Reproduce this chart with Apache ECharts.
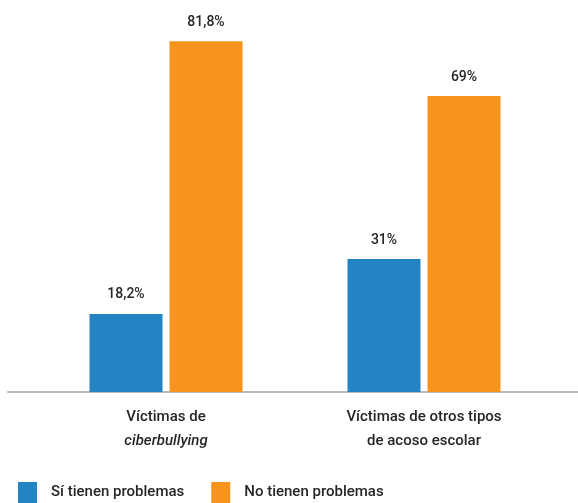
<!DOCTYPE html>
<html>
<head>
<meta charset="utf-8">
<script src="https://cdn.jsdelivr.net/npm/echarts@6/dist/echarts.min.js"></script>
<style>
  html, body { margin: 0; padding: 0; background: #fff; }
  #chart { width: 578px; height: 503px; }
</style>
</head>
<body>
<div id="chart"></div>
<script>
// data
var categories = ['Víctimas de\n{i|ciberbullying}', 'Víctimas de otros tipos\nde acoso escolar'];
var seriesNames = ['Sí tienen problemas', 'No tienen problemas'];
var siValues = [18.2, 31];
var noValues = [81.8, 69];

var FONT = 'Roboto';
var BLUE = '#2383c3';
var ORANGE = '#f7941d';
var TEXT = '#262626';

var chart = echarts.init(document.getElementById('chart'));

function pct(p) {
  return String(p.value).replace('.', ',') + '%';
}

var labelStyle = {
  show: true,
  position: 'top',
  distance: 12,
  formatter: pct,
  color: TEXT,
  fontFamily: FONT,
  fontWeight: 500,
  fontSize: 14
};

var option = {
  animation: false,
  textStyle: { fontFamily: FONT },
  legend: {
    data: seriesNames,
    left: 18,
    top: 482,
    padding: 0,
    icon: 'rect',
    itemWidth: 19,
    itemHeight: 21,
    itemGap: 27,
    textStyle: { fontFamily: FONT, fontWeight: 500, fontSize: 15, color: TEXT, padding: [0, 0, 0, 9] }
  },
  grid: [
    { left: 37, right: 25, top: 6, bottom: 111, containLabel: false },
    { left: 8, right: 0, top: 6, bottom: 111, containLabel: false }
  ],
  xAxis: [
    {
      type: 'category',
      gridIndex: 0,
      data: categories,
      axisLine: { show: false },
      axisTick: { show: false },
      axisLabel: {
        margin: 13,
        color: TEXT,
        fontFamily: FONT,
        fontWeight: 500,
        fontSize: 15,
        lineHeight: 24,
        rich: { i: { fontStyle: 'italic', fontFamily: FONT, fontWeight: 500, fontSize: 15, color: TEXT, lineHeight: 24 } }
      }
    },
    {
      type: 'category',
      gridIndex: 1,
      data: [''],
      axisLine: { show: true, lineStyle: { color: '#bbb', width: 2 } },
      axisTick: { show: false },
      axisLabel: { show: false }
    }
  ],
  yAxis: [
    { type: 'value', gridIndex: 0, min: 0, max: 90, show: false, splitLine: { show: false } },
    { type: 'value', gridIndex: 1, min: 0, max: 90, show: false, splitLine: { show: false } }
  ],
  series: [
    {
      name: seriesNames[0],
      type: 'bar',
      data: siValues,
      barWidth: 73,
      barGap: '9.6%',
      itemStyle: { color: BLUE },
      label: labelStyle
    },
    {
      name: seriesNames[1],
      type: 'bar',
      data: noValues,
      barWidth: 73,
      barGap: '9.6%',
      itemStyle: { color: ORANGE },
      label: labelStyle
    }
  ]
};

chart.setOption(option);
</script>
</body>
</html>
